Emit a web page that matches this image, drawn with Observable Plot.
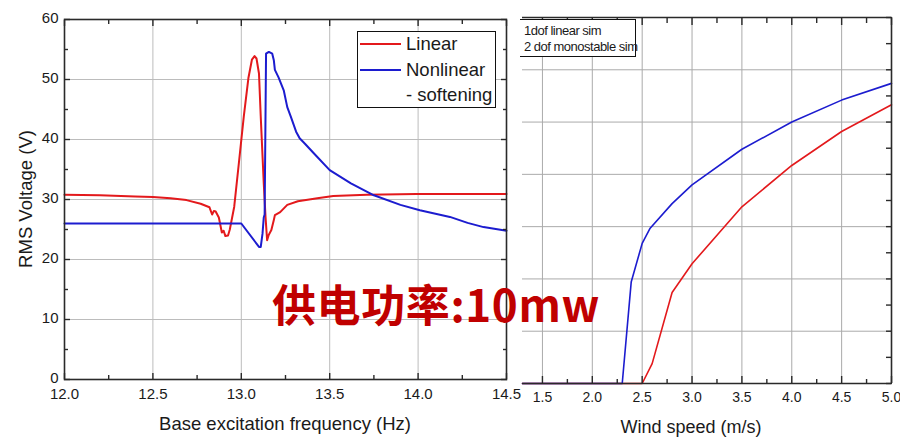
<!DOCTYPE html>
<html><head><meta charset="utf-8">
<script src="https://cdn.jsdelivr.net/npm/d3@7"></script>
<script src="https://cdn.jsdelivr.net/npm/@observablehq/plot@0.6"></script>
<style>
body{margin:0;background:#fff;}
#wrap{position:relative;width:900px;height:437px;overflow:hidden;font-family:"Liberation Sans",Arial,sans-serif;color:#1a1a1a;}
#wrap svg{position:absolute;top:0;}
.abs{position:absolute;white-space:nowrap;}
</style></head><body><div id="wrap"></div>
<script>
// ---------- Left chart: RMS voltage vs base excitation frequency ----------
const linearFreq = [12.0, 12.2, 12.4, 12.5, 12.6, 12.69, 12.77, 12.82, 12.835, 12.845, 12.855, 12.873, 12.89, 12.90, 12.91, 12.925, 12.935, 12.96, 12.986, 13.014, 13.04, 13.06, 13.075, 13.086, 13.10, 13.11, 13.127, 13.137, 13.146, 13.155, 13.17, 13.184, 13.19, 13.22, 13.26, 13.32, 13.43, 13.52, 13.71, 13.99, 14.5];
const linearVolt = [30.8, 30.7, 30.5, 30.4, 30.2, 29.9, 29.3, 28.7, 27.5, 28.1, 28.0, 27.0, 24.5, 24.8, 23.9, 24.0, 25.0, 28.8, 36.0, 43.8, 50.2, 53.3, 53.9, 53.5, 51.0, 43.8, 32.7, 27.1, 23.2, 24.1, 24.9, 26.6, 27.4, 27.9, 29.1, 29.7, 30.2, 30.6, 30.8, 30.9, 30.9];
const nonlinFreq = [12.0, 13.0, 13.1, 13.11, 13.12, 13.127, 13.132, 13.14, 13.156, 13.175, 13.184, 13.19, 13.21, 13.24, 13.26, 13.28, 13.31, 13.33, 13.36, 13.41, 13.5, 13.62, 13.75, 13.9, 14.01, 14.18, 14.28, 14.37, 14.5];
const nonlinVolt = [26.0, 26.0, 22.1, 22.1, 24.3, 27.0, 27.5, 54.3, 54.6, 54.3, 53.2, 51.6, 50.4, 48.2, 45.4, 43.8, 41.3, 40.2, 39.3, 37.7, 34.9, 32.7, 30.7, 29.1, 28.2, 27.1, 26.1, 25.4, 24.8];
const leftSeries = ["Linear", "Nonlinear", "- softening"];
const freqTicks = [12.0, 12.5, 13.0, 13.5, 14.0, 14.5];
const freqMinor = [12.25, 12.75, 13.25, 13.75, 14.25];
const voltTicks = [0, 10, 20, 30, 40, 50, 60];
const voltMinor = [5, 15, 25, 35, 45, 55];
const leftXLabel = "Base excitation frequency (Hz)";
const leftYLabel = "RMS Voltage (V)";

// ---------- Right chart: output vs wind speed ----------
const windMono = [1.3, 2.3, 2.39, 2.5, 2.58, 2.8, 3.0, 3.5, 4.0, 4.5, 5.0];
const powerMono = [0, 0, 1.94, 2.68, 2.97, 3.44, 3.80, 4.48, 5.0, 5.42, 5.74];
const windLin = [1.3, 2.5, 2.6, 2.8, 3.0, 3.5, 4.0, 4.5, 5.0];
const powerLin = [0, 0, 0.38, 1.74, 2.29, 3.38, 4.17, 4.82, 5.33];
const rightSeries = ["1dof linear sim", "2 dof monostable sim"];
const windTicks = [1.5, 2.0, 2.5, 3.0, 3.5, 4.0, 4.5, 5.0];
const windMinor = [1.75, 2.25, 2.75, 3.25, 3.75, 4.25, 4.75];
const powerTicks = [0, 1, 2, 3, 4, 5, 6, 7];
const powerMinor = [0.5, 1.5, 2.5, 3.5, 4.5, 5.5, 6.5];
const rightXLabel = "Wind speed (m/s)";
const overlayText = "供电功率:10mw";

const RED = "#e3191c", BLUE = "#1c1ccf", GRID = "#bcbcbc", FRAME = "#2a2a2a";
const linearData = linearFreq.map((f, i) => ({f, v: linearVolt[i]}));
const nonlinData = nonlinFreq.map((f, i) => ({f, v: nonlinVolt[i]}));
const monoData = windMono.map((w, i) => ({w, p: powerMono[i]}));
const linData = windLin.map((w, i) => ({w, p: powerLin[i]}));
const blank = () => "";
const font = "Liberation Sans, Arial, sans-serif";

const left = Plot.plot({
  width: 521, height: 437,
  marginLeft: 64, marginRight: 15, marginTop: 19, marginBottom: 58,
  style: {fontFamily: font, fontSize: "15px", color: "#1a1a1a", background: "transparent", overflow: "visible"},
  x: {domain: [12, 14.5]},
  y: {domain: [0, 60]},
  marks: [
    Plot.gridX(freqTicks.slice(1, -1), {stroke: GRID, strokeOpacity: 1}),
    Plot.gridY(voltTicks.slice(1, -1), {stroke: GRID, strokeOpacity: 1}),
    Plot.line(linearData, {x: "f", y: "v", stroke: RED, strokeWidth: 2}),
    Plot.line(nonlinData, {x: "f", y: "v", stroke: BLUE, strokeWidth: 2}),
    Plot.axisX(freqTicks, {tickSize: 0, tickPadding: 9, tickFormat: d => d.toFixed(1), label: null}),
    Plot.axisX(freqTicks, {tickSize: -6, tickFormat: blank, label: null, stroke: FRAME, strokeWidth: 1.4}),
    Plot.axisX(freqMinor, {tickSize: -4, tickFormat: blank, label: null, stroke: FRAME, strokeWidth: 1.4}),
    Plot.axisX(freqTicks, {anchor: "top", tickSize: -6, tickFormat: blank, label: null, stroke: FRAME, strokeWidth: 1.4}),
    Plot.axisX(freqMinor, {anchor: "top", tickSize: -4, tickFormat: blank, label: null, stroke: FRAME, strokeWidth: 1.4}),
    Plot.axisY(voltTicks, {tickSize: 0, tickPadding: 6, label: null, dy: -1}),
    Plot.axisY(voltTicks, {tickSize: -6, tickFormat: blank, label: null, stroke: FRAME, strokeWidth: 1.4}),
    Plot.axisY(voltMinor, {tickSize: -4, tickFormat: blank, label: null, stroke: FRAME, strokeWidth: 1.4}),
    Plot.axisY(voltTicks, {anchor: "right", tickSize: -6, tickFormat: blank, label: null, stroke: FRAME, strokeWidth: 1.4}),
    Plot.axisY(voltMinor, {anchor: "right", tickSize: -4, tickFormat: blank, label: null, stroke: FRAME, strokeWidth: 1.4}),
    Plot.frame({stroke: FRAME, strokeWidth: 1.6})
  ]
});
left.style.left = "0px";

const right = Plot.plot({
  width: 378, height: 437,
  marginLeft: 0, marginRight: 9, marginTop: 17, marginBottom: 54,
  style: {fontFamily: font, fontSize: "14px", color: "#1a1a1a", background: "#fff", overflow: "visible"},
  x: {domain: [1.3, 5.0]},
  y: {domain: [0, 7]},
  marks: [
    Plot.gridX(windTicks.slice(0, -1), {stroke: "#aaaaaa", strokeOpacity: 1}),
    Plot.gridY(powerTicks.slice(1, -1), {stroke: "#aaaaaa", strokeOpacity: 1}),
    Plot.line(linData, {x: "w", y: "p", stroke: RED, strokeWidth: 1.6}),
    Plot.line(monoData, {x: "w", y: "p", stroke: BLUE, strokeWidth: 1.6}),
    Plot.axisX(windTicks, {tickSize: 0, tickPadding: 9, tickFormat: d => d.toFixed(1), label: null}),
    Plot.axisX(windTicks, {tickSize: -7, tickFormat: blank, label: null, stroke: FRAME, strokeWidth: 1.4}),
    Plot.axisX(windMinor, {tickSize: -4, tickFormat: blank, label: null, stroke: FRAME, strokeWidth: 1.4}),
    Plot.axisX(windTicks, {anchor: "top", tickSize: -7, tickFormat: blank, label: null, stroke: FRAME, strokeWidth: 1.4}),
    Plot.axisX(windMinor, {anchor: "top", tickSize: -5, tickFormat: blank, label: null, stroke: FRAME, strokeWidth: 1.4}),
    Plot.axisY(powerTicks, {anchor: "right", tickSize: -6, tickFormat: blank, label: null, stroke: FRAME, strokeWidth: 1.4}),
    Plot.axisY(powerMinor, {anchor: "right", tickSize: -6, tickFormat: blank, label: null, stroke: FRAME, strokeWidth: 1.4}),
    Plot.ruleY([powerTicks[0], powerTicks[powerTicks.length - 1]], {stroke: FRAME, strokeWidth: 1.6}),
    Plot.ruleX([windTicks[windTicks.length - 1]], {stroke: FRAME, strokeWidth: 1.6})
  ]
});
right.style.left = "522px";

const wrap = document.getElementById("wrap");
wrap.appendChild(left);
wrap.appendChild(right);

function addDiv(text, css) {
  const d = document.createElement("div");
  d.className = "abs";
  d.textContent = text;
  Object.assign(d.style, css);
  wrap.appendChild(d);
  return d;
}
// axis titles
addDiv(leftXLabel, {left: "285px", top: "424px", fontSize: "18.5px", lineHeight: "20px", transform: "translate(-50%,-50%)"});
addDiv(leftYLabel, {left: "26px", top: "199px", fontSize: "18.5px", lineHeight: "20px", transform: "translate(-50%,-50%) rotate(-90deg)"});
addDiv(rightXLabel, {left: "691px", top: "427px", fontSize: "18px", lineHeight: "19px", transform: "translate(-50%,-50%)"});

// left legend
const lb = document.createElement("div");
lb.className = "abs";
Object.assign(lb.style, {left: "357px", top: "31px", width: "137px", height: "75px", border: "1.5px solid #111", background: "#fff"});
wrap.appendChild(lb);
[[RED, 44], [BLUE, 70]].forEach(([c, y]) => {
  const s = document.createElement("div");
  s.className = "abs";
  Object.assign(s.style, {left: "360px", top: (y - 1) + "px", width: "41px", height: "2px", background: c});
  wrap.appendChild(s);
});
leftSeries.forEach((t, i) => addDiv(t, {left: "406px", top: [44, 70, 95][i] + "px", fontSize: "18.5px", transform: "translateY(-50%)", lineHeight: "20px"}));

// right legend
const rb = document.createElement("div");
rb.className = "abs";
Object.assign(rb.style, {left: "520px", top: "19px", width: "115px", height: "36px", borderRight: "1.5px solid #111", borderTop: "1.5px solid #111", borderBottom: "1.5px solid #111", background: "#fff"});
wrap.appendChild(rb);
rightSeries.forEach((t, i) => addDiv(t, {left: "524px", top: [31, 47][i] + "px", fontSize: "13px", letterSpacing: "-0.5px", transform: "translateY(-50%)", lineHeight: "14px"}));

// overlay annotation
addDiv(overlayText, {left: "272px", top: "281px", fontSize: "44px", lineHeight: "44px", fontWeight: "bold", letterSpacing: "0.6px", color: "#c00000", fontFamily: "'Noto Sans CJK SC', sans-serif"});
</script></body></html>
